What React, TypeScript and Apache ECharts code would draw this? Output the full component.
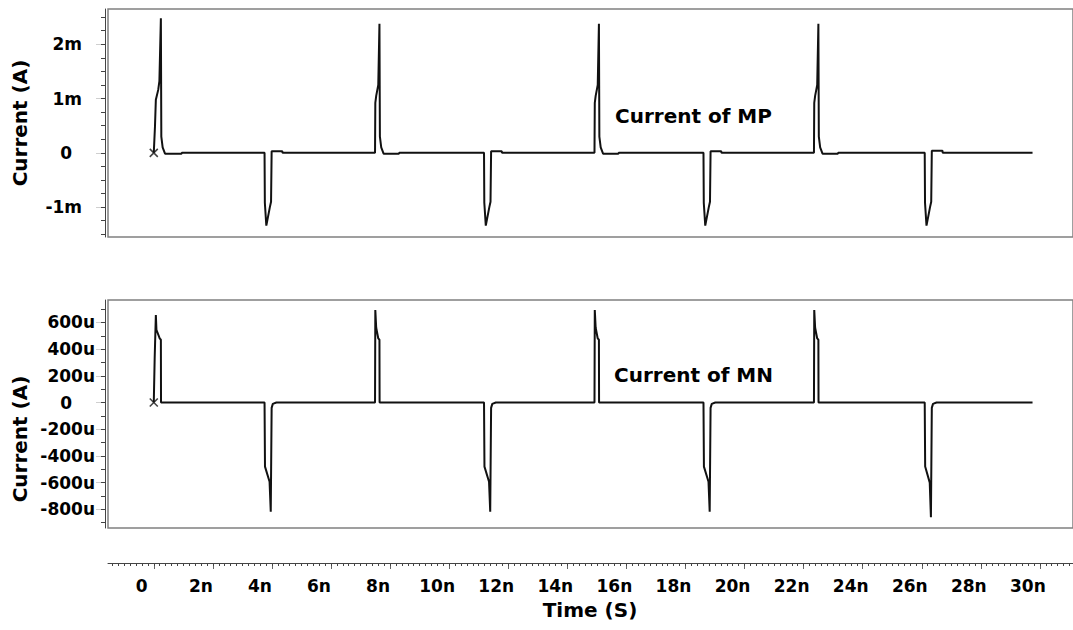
import React, { useEffect, useRef } from "react";
import * as echarts from "echarts";

// ---- data (time in ns) ----
// Current of MP, mA
const mpPoints: [number, number][] = [
  [0, 0], [0.04, 0.48], [0.07, 0.98], [0.15, 1.16], [0.19, 1.32], [0.24, 2.48], [0.255, 0.3], [0.3, 0.1], [0.38, -0.015], [0.94, -0.015], [0.95, 0],
  [3.75, 0], [3.76, -0.92], [3.81, -1.34], [3.93, -1.0], [3.97, -0.9], [3.99, 0.03], [4.35, 0.03], [4.36, 0],
  [7.49, 0], [7.5, 0.92], [7.53, 1.05], [7.6, 1.25], [7.64, 2.38], [7.655, 0.3], [7.7, 0.1], [7.78, -0.015], [8.3, -0.015], [8.31, 0],
  [11.18, 0], [11.19, -0.92], [11.24, -1.34], [11.36, -1.0], [11.4, -0.9], [11.42, 0.03], [11.78, 0.03], [11.79, 0],
  [14.92, 0], [14.93, 0.92], [14.96, 1.05], [15.03, 1.25], [15.07, 2.38], [15.085, 0.3], [15.13, 0.1], [15.21, -0.015], [15.73, -0.015], [15.74, 0],
  [18.61, 0], [18.62, -0.92], [18.67, -1.34], [18.79, -1.0], [18.83, -0.9], [18.85, 0.03], [19.21, 0.03], [19.22, 0],
  [22.35, 0], [22.36, 0.92], [22.39, 1.05], [22.46, 1.25], [22.5, 2.38], [22.515, 0.3], [22.56, 0.1], [22.64, -0.015], [23.16, -0.015], [23.17, 0],
  [26.1, 0], [26.11, -0.92], [26.16, -1.34], [26.28, -1.0], [26.32, -0.9], [26.34, 0.04], [26.7, 0.04], [26.71, 0],
  [29.75, 0],
];

// Current of MN, uA
const mnPoints: [number, number][] = [
  [0, 0], [0.03, 330], [0.07, 655], [0.09, 545], [0.2, 480], [0.24, 470], [0.245, 0],
  [3.75, 0], [3.765, -480], [3.92, -593], [3.96, -818], [3.99, -40], [4.03, -10], [4.15, 0],
  [7.49, 0], [7.5, 693], [7.53, 560], [7.6, 480], [7.64, 470], [7.645, 0],
  [11.18, 0], [11.195, -480], [11.35, -593], [11.39, -818], [11.42, -40], [11.46, -10], [11.58, 0],
  [14.92, 0], [14.93, 693], [14.96, 560], [15.03, 480], [15.07, 470], [15.075, 0],
  [18.61, 0], [18.625, -480], [18.78, -593], [18.82, -818], [18.85, -40], [18.89, -10], [19.01, 0],
  [22.35, 0], [22.36, 693], [22.39, 560], [22.46, 480], [22.5, 470], [22.505, 0],
  [26.1, 0], [26.115, -480], [26.27, -600], [26.31, -860], [26.34, -40], [26.38, -10], [26.5, 0],
  [29.75, 0],
];

const startMarks: [number, number][] = [[0, 0]];

const xTickValues = [0, 2, 4, 6, 8, 10, 12, 14, 16, 18, 20, 22, 24, 26, 28, 30];
const xTickLabels = ["0", "2n", "4n", "6n", "8n", "10n", "12n", "14n", "16n", "18n", "20n", "22n", "24n", "26n", "28n", "30n"];
const mpTickValues = [-1, 0, 1, 2];
const mpTickLabels = ["-1m", "0", "1m", "2m"];
const mnTickValues = [-800, -600, -400, -200, 0, 200, 400, 600];
const mnTickLabels = ["-800u", "-600u", "-400u", "-200u", "0", "200u", "400u", "600u"];

const FONT = "DejaVu Sans";
const XMIN = -1.55;
const XMAX = 31.12;

function range(a: number, b: number, step: number): number[] {
  const out: number[] = [];
  const n = Math.round((b - a) / step);
  for (let i = 0; i <= n; i++) out.push(Math.round((a + i * step) * 1000) / 1000);
  return out;
}

export default function App() {
  const ref = useRef<HTMLDivElement>(null);
  useEffect(() => {
    if (!ref.current) return;
    const chart = echarts.init(ref.current, null, { renderer: "svg" });
    const gridBase = { left: 108, right: -2, containLabel: false };
    const labelStyle = { fontFamily: FONT, fontWeight: "bold" as const, fontSize: 17, color: "#000" };
    const hiddenX = (gi: number) => ({
      type: "value", gridIndex: gi, min: XMIN, max: XMAX, show: false,
      axisLine: { onZero: false },
    });
    const yMajor = (gi: number, min: number, max: number, vals: number[], labs: string[], margin: number, zeroPad: number) => ({
      type: "value", gridIndex: gi, min, max, offset: 3, position: "left",
      axisLine: { show: true, onZero: false, lineStyle: { color: "#444", width: 1 } },
      axisTick: { show: true, customValues: vals, length: 9, lineStyle: { color: "#cfcfcf" } },
      axisLabel: {
        show: true, customValues: vals, margin, ...labelStyle,
        formatter: (v: number) => {
          const i = vals.indexOf(v);
          const s = i >= 0 ? labs[i] : "";
          return v === 0 ? "{z|" + s + "}" : s;
        },
        rich: { z: { ...labelStyle, padding: [0, zeroPad, 0, 0] } },
      },
      splitLine: { show: false },
    });
    const yMinor = (gi: number, min: number, max: number, vals: number[]) => ({
      type: "value", gridIndex: gi, min, max, offset: 3, position: "left",
      axisLine: { show: false, onZero: false },
      axisTick: { show: true, customValues: vals, length: 4, lineStyle: { color: "#444" } },
      axisLabel: { show: false },
      splitLine: { show: false },
    });
    const option: any = {
      animation: false,
      backgroundColor: "#fff",
      grid: [
        { ...gridBase, top: 9, height: 228, show: true, borderColor: "#808080", borderWidth: 1.5 },
        { ...gridBase, top: 300, height: 228, show: true, borderColor: "#808080", borderWidth: 1.5 },
        { ...gridBase, top: 562, height: 1, show: false },
      ],
      xAxis: [
        hiddenX(0),
        hiddenX(1),
        {
          type: "value", gridIndex: 2, min: XMIN, max: XMAX, position: "bottom",
          axisLine: { show: true, onZero: false, lineStyle: { color: "#444", width: 1 } },
          axisTick: { show: true, customValues: xTickValues, length: 6, lineStyle: { color: "#666" } },
          axisLabel: {
            show: true, customValues: xTickValues, margin: 14, ...labelStyle,
            padding: [0, 24, 0, 0],
            formatter: (v: number) => {
              const i = xTickValues.indexOf(v);
              return i >= 0 ? xTickLabels[i] : "";
            },
          },
          splitLine: { show: false },
        },
        {
          type: "value", gridIndex: 2, min: XMIN, max: XMAX, position: "bottom",
          axisLine: { show: false, onZero: false },
          axisTick: { show: true, customValues: range(-1.4, 31.0, 0.2), length: 3, lineStyle: { color: "#444" } },
          axisLabel: { show: false },
          splitLine: { show: false },
        },
      ],
      yAxis: [
        yMajor(0, -1.55, 2.65, mpTickValues, mpTickLabels, 23, 10),
        yMinor(0, -1.55, 2.65, range(-1.5, 2.5, 0.25)),
        yMajor(1, -940, 768, mnTickValues, mnTickLabels, 10, 23),
        yMinor(1, -940, 768, range(-900, 700, 100)),
        { type: "value", gridIndex: 2, show: false, min: 0, max: 1 },
      ],
      series: [
        {
          type: "line", name: "Current of MP", xAxisIndex: 0, yAxisIndex: 0, data: mpPoints,
          symbol: "none", lineStyle: { color: "#111", width: 2 }, z: 3,
        },
        {
          type: "line", name: "Current of MN", xAxisIndex: 1, yAxisIndex: 2, data: mnPoints,
          symbol: "none", lineStyle: { color: "#111", width: 2 }, z: 3,
        },
        {
          type: "scatter", xAxisIndex: 0, yAxisIndex: 0, data: startMarks,
          symbol: "path://M0,0L10,10M10,0L0,10", symbolSize: 8,
          itemStyle: { color: "none", borderColor: "#111", borderWidth: 1.5 }, z: 4,
        },
        {
          type: "scatter", xAxisIndex: 1, yAxisIndex: 2, data: startMarks,
          symbol: "path://M0,0L10,10M10,0L0,10", symbolSize: 8,
          itemStyle: { color: "none", borderColor: "#111", borderWidth: 1.5 }, z: 4,
        },
      ],
      graphic: [
        {
          type: "text", x: 19.5, y: 123, rotation: Math.PI / 2,
          style: { text: "Current (A)", fontFamily: FONT, fontWeight: "bold", fontSize: 20, fill: "#000", align: "center", verticalAlign: "middle" },
        },
        {
          type: "text", x: 19.5, y: 439, rotation: Math.PI / 2,
          style: { text: "Current (A)", fontFamily: FONT, fontWeight: "bold", fontSize: 20, fill: "#000", align: "center", verticalAlign: "middle" },
        },
        {
          type: "text", x: 590, y: 610,
          style: { text: "Time (S)", fontFamily: FONT, fontWeight: "bold", fontSize: 20, fill: "#000", align: "center", verticalAlign: "middle" },
        },
        {
          type: "text", x: 615, y: 116,
          style: { text: "Current of MP", fontFamily: FONT, fontWeight: "bold", fontSize: 20, fill: "#000", align: "left", verticalAlign: "middle" },
        },
        {
          type: "text", x: 614, y: 375,
          style: { text: "Current of MN", fontFamily: FONT, fontWeight: "bold", fontSize: 20, fill: "#000", align: "left", verticalAlign: "middle" },
        },
      ],
    };
    chart.setOption(option);
    return () => chart.dispose();
  }, []);
  return (
    <div
      ref={ref}
      style={{ position: "fixed", left: 0, top: 0, width: 1073, height: 630, background: "#fff" }}
    />
  );
}
